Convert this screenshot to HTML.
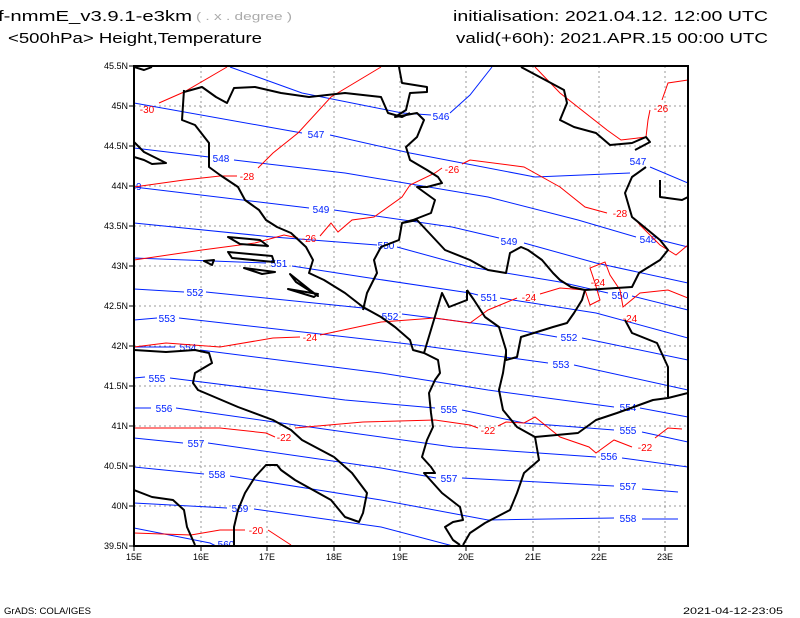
<!DOCTYPE html>
<html><head><meta charset="utf-8"><style>
body{margin:0;background:#fff;}
svg{display:block;font-family:"Liberation Sans",sans-serif;}
</style></head><body>
<svg width="800" height="618" viewBox="0 0 800 618" xmlns="http://www.w3.org/2000/svg">
<rect width="800" height="618" fill="#fff"/>
<g font-size="15" fill="#000">
<text x="-2" y="21" textLength="194" lengthAdjust="spacingAndGlyphs">f-nmmE_v3.9.1-e3km</text>
<text x="196" y="20" font-size="11" fill="#aaa" textLength="96" lengthAdjust="spacingAndGlyphs">( . x . degree )</text>
<text x="8" y="43" textLength="254" lengthAdjust="spacingAndGlyphs">&lt;500hPa&gt; Height,Temperature</text>
<text x="453" y="21" textLength="315" lengthAdjust="spacingAndGlyphs">initialisation: 2021.04.12.   12:00 UTC</text>
<text x="456" y="43" textLength="312" lengthAdjust="spacingAndGlyphs">valid(+60h): 2021.APR.15 00:00 UTC</text>
</g>
<g font-size="9" fill="#000">
<text x="4" y="614" textLength="87" lengthAdjust="spacingAndGlyphs">GrADS: COLA/IGES</text>
<text x="683" y="614" textLength="100" lengthAdjust="spacingAndGlyphs">2021-04-12-23:05</text>
</g>
<defs><clipPath id="c"><rect x="134" y="66" width="554" height="480"/></clipPath></defs>
<g stroke="#999" stroke-width="1" stroke-dasharray="2,3">
<path d="M201 66V546M267 66V546M334 66V546M400 66V546M466 66V546M533 66V546M599 66V546M665 66V546"/>
<path d="M134 106H688M134 146H688M134 186H688M134 226H688M134 266H688M134 306H688M134 346H688M134 386H688M134 426H688M134 466H688M134 506H688"/>
</g>
<g clip-path="url(#c)" fill="none">
<g stroke="#0022ff" stroke-width="1">
<polyline points="230,67 302,93 402,113 431,115"/><polyline points="450,113 470,95 492,67"/>
<polyline points="134,103 302,133"/><polyline points="330,135 410,153 535,177 630,173"/><polyline points="650,167 688,183"/>
<polyline points="134,148 209,157"/><polyline points="234,160 345,173 488,197 578,220 636,237"/><polyline points="660,240 688,247"/>
<polyline points="134,187 309,208"/><polyline points="334,210 452,227 499,238"/><polyline points="524,243 596,263 688,283"/>
<polyline points="134,223 273,237 377,245"/><polyline points="397,247 470,267 560,282 608,293"/><polyline points="632,296 688,310"/>
<polyline points="134,258 266,263"/><polyline points="292,266 363,277 470,293 478,295"/><polyline points="500,298 596,313 688,338"/>
<polyline points="134,289 184,292"/><polyline points="206,292 363,308 378,315"/><polyline points="402,314 488,325 557,337"/><polyline points="582,338 688,360"/>
<polyline points="134,320 157,318"/><polyline points="179,318 417,345 548,363"/><polyline points="574,365 688,390"/>
<polyline points="134,347 175,347"/><polyline points="200,350 381,373 488,390 614,407"/><polyline points="640,408 688,417"/>
<polyline points="134,378 145,377"/><polyline points="170,378 345,400 435,408"/><polyline points="462,410 524,423 614,430"/><polyline points="642,432 688,442"/>
<polyline points="134,408 151,408"/><polyline points="176,408 345,432 453,447 596,457"/><polyline points="622,458 688,467"/>
<polyline points="134,438 183,443"/><polyline points="208,443 381,468 436,478"/><polyline points="462,478 614,486"/><polyline points="642,489 678,492"/>
<polyline points="134,467 204,474"/><polyline points="230,476 381,500 488,520 614,518"/><polyline points="642,519 678,519"/>
<polyline points="134,503 227,508"/><polyline points="254,509 381,527 453,546"/>
<polyline points="134,528 210,543 216,546"/>
</g>
<g font-size="10" fill="#0022ff" text-anchor="middle">
<text x="441" y="120">546</text><text x="316" y="138">547</text><text x="638" y="165">547</text>
<text x="221" y="162">548</text><text x="648" y="243">548</text><text x="321" y="213">549</text><text x="509" y="245">549</text><text x="136" y="190">49</text>
<text x="386" y="249">550</text><text x="620" y="299">550</text><text x="279" y="267">551</text><text x="489" y="301">551</text>
<text x="195" y="296">552</text><text x="390" y="320">552</text><text x="569" y="341">552</text>
<text x="167" y="322">553</text><text x="561" y="368">553</text><text x="188" y="351">554</text><text x="628" y="411">554</text>
<text x="157" y="382">555</text><text x="449" y="413">555</text><text x="628" y="434">555</text>
<text x="164" y="412">556</text><text x="609" y="460">556</text><text x="196" y="447">557</text><text x="449" y="482">557</text><text x="628" y="490">557</text>
<text x="217" y="478">558</text><text x="628" y="522">558</text><text x="240" y="512">559</text><text x="226" y="548">560</text>
</g>
<g stroke="#ff0000" stroke-width="1">
<polyline points="159,103 184,92 227,67"/>
<polyline points="134,187 184,180 220,176 237,176"/><polyline points="258,168 273,153 298,133 331,97 381,67"/>
<polyline points="134,260 202,250 255,243 284,235 298,238"/><polyline points="320,236 331,223 338,232 352,220 374,217 402,197 410,185 435,173 442,168"/><polyline points="462,164 470,160 524,167 560,187 585,207 607,213"/><polyline points="634,218 640,225 660,245 676,255 688,245"/>
<polyline points="535,67 560,93 607,130 621,140 646,137 648,120 650,110"/><polyline points="662,100 668,83 688,80"/>
<polyline points="134,347 166,343 220,347 273,338 300,337"/><polyline points="320,335 381,322 435,318 470,323 488,310 517,298"/><polyline points="540,294 560,288 585,290 590,305 600,300 595,283 590,268 605,262 610,275 620,290 623,307 640,293 668,290 688,298"/>
<polyline points="134,428 220,428 266,433 275,437"/><polyline points="295,428 363,422 435,420 470,425 478,428"/><polyline points="498,426 506,422 524,423 535,417 560,437 589,447 596,453 614,440 632,447"/><polyline points="655,438 668,428 682,429"/>
<polyline points="134,533 191,535 220,530 245,530"/><polyline points="268,530 291,545"/>
</g>
<g font-size="10" fill="#ff0000" text-anchor="middle">
<text x="147" y="113">-30</text><text x="247" y="180">-28</text><text x="661" y="112">-26</text>
<text x="309" y="242">-26</text><text x="452" y="173">-26</text><text x="620" y="217">-28</text>
<text x="310" y="341">-24</text><text x="529" y="301">-24</text><text x="598" y="286">-24</text><text x="630" y="322">-24</text>
<text x="284" y="441">-22</text><text x="488" y="434">-22</text><text x="645" y="451">-22</text><text x="256" y="534">-20</text>
</g>
<g stroke="#000" stroke-width="2" stroke-linejoin="round">
<polyline points="134,67 144,70 152,67"/>
<polyline points="134,142 144,152 166,163 152,164 144,160 134,157"/>
<polyline points="184,90 182,120 195,125 209,143 209,167 220,175 238,187 245,200 259,210 266,220 277,227 291,233 306,247 313,260 309,273 324,280 345,293 363,307 381,317 395,327 410,340 413,350 424,353 438,360 440,373 435,380 429,393 431,413 433,427 427,440 422,457 431,467 435,473 424,473 442,493 460,507 463,520 453,522 445,527 453,540 460,545"/>
<polyline points="134,350 166,352 195,350 209,353 212,363 195,373 193,383 198,390 238,407 273,420 291,430 302,440 334,457 352,473 367,493 363,513 359,522 345,517 331,500 295,480 281,470 277,465 266,465 255,477 245,493 238,510 234,527 234,545"/>
<polyline points="134,490 152,497 173,500 184,510 187,527 195,545"/>
<polyline points="363,310 367,293 377,273 374,260 381,247 399,240 402,223 417,220 445,250 470,260 488,270 506,273 510,253 521,247 528,250 542,260 553,273 560,280 571,287 585,290"/>
<polyline points="467,290 474,300 485,317 499,327 506,350 506,360 517,357 521,337 553,327 567,323 574,313 582,300 585,290"/>
<polyline points="506,353 503,373 499,390 503,410 517,427 535,437 539,460 524,473 517,493 510,510 485,523 470,533 463,545"/>
<polyline points="424,353 442,293 449,307 467,300 467,290"/>
<polyline points="535,437 578,433 596,420 617,413 653,400 668,398 688,393"/>
<polyline points="625,320 632,333 657,343 668,367 668,397"/>
<polyline points="585,290 632,287 639,273 660,260 668,250 660,240 632,217 625,193 632,177 646,167"/>
<polyline points="521,67 564,90 567,103 560,120 574,127 596,133 610,145 632,143 646,137 650,142 635,150"/>
<polyline points="660,180 660,197 682,200 688,197"/>
<polyline points="399,67 402,83 427,87 427,92 410,93 406,110 395,117 417,113 424,120 417,137 406,147 410,160 427,170 438,177 442,183 427,187 417,187 435,200 431,213 413,220 402,223"/>
<polyline points="184,92 202,87 216,97 227,103 234,88 255,87 281,93 309,97 345,93 381,97 388,113 402,117 410,113"/>
<path d="M228 237 L260 240 L268 246 L240 244 Z M228 252 L272 256 L274 262 L232 258 Z M204 261 L214 260 L212 265 Z M244 268 L275 272 L262 274 Z M290 274 L310 290 L318 296 L296 282 Z M288 289 L318 294 L314 297 Z"/>
</g>
</g>
<rect x="134" y="66" width="554" height="480" fill="none" stroke="#000" stroke-width="2"/>
<g stroke="#000" stroke-width="1">
<path d="M134 546v5M201 546v5M267 546v5M334 546v5M400 546v5M466 546v5M533 546v5M599 546v5M665 546v5"/>
<path d="M129 66h5M129 106h5M129 146h5M129 186h5M129 226h5M129 266h5M129 306h5M129 346h5M129 386h5M129 426h5M129 466h5M129 506h5M129 546h5"/>
</g>
<g font-size="9" fill="#000" text-anchor="middle">
<text x="134" y="560">15E</text><text x="201" y="560">16E</text><text x="267" y="560">17E</text><text x="334" y="560">18E</text><text x="400" y="560">19E</text><text x="466" y="560">20E</text><text x="533" y="560">21E</text><text x="599" y="560">22E</text><text x="665" y="560">23E</text>
</g>
<g font-size="9" fill="#000" text-anchor="end">
<text x="128" y="69">45.5N</text><text x="128" y="109">45N</text><text x="128" y="149">44.5N</text><text x="128" y="189">44N</text><text x="128" y="229">43.5N</text><text x="128" y="269">43N</text><text x="128" y="309">42.5N</text><text x="128" y="349">42N</text><text x="128" y="389">41.5N</text><text x="128" y="429">41N</text><text x="128" y="469">40.5N</text><text x="128" y="509">40N</text><text x="128" y="549">39.5N</text>
</g>
</svg>
</body></html>
